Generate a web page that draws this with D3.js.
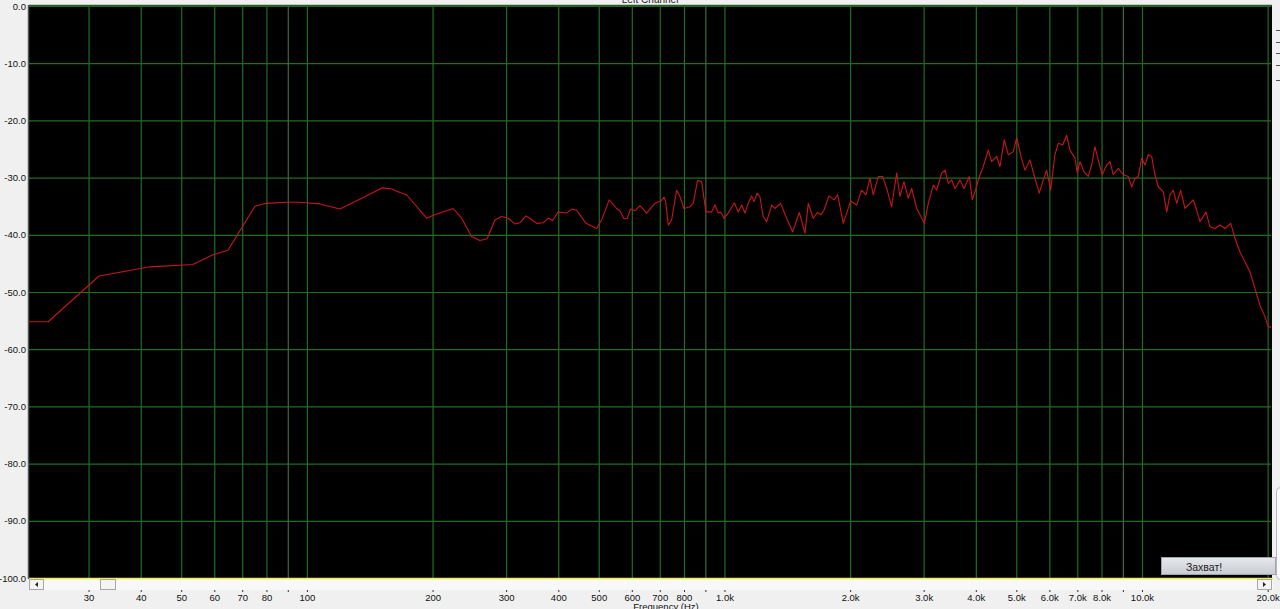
<!DOCTYPE html>
<html><head><meta charset="utf-8">
<script src="https://cdn.jsdelivr.net/npm/d3@7"></script>
<style>
html,body{margin:0;padding:0;background:#f0f0f0;overflow:hidden}
svg{display:block}
text{font-family:"Liberation Sans",Arial,sans-serif}
</style></head><body>
<svg id="c" width="1280" height="609"></svg>
<script>
const chartTitle = "Left Channel";
const xAxisTitle = "Frequency (Hz)";
const buttonLabel = "Захват!";

const freqHz = [
21.6, 24.0, 31.8, 42.1, 53.3, 59.6, 64.7, 75.1, 79.8, 89.6,
96.2, 107.4, 120.0, 135.4, 151.2, 159.8, 167.1, 173.3, 193.5, 200.7,
224.1, 234.7, 248.0, 259.6, 270.3, 282.0, 292.6, 303.5, 314.9, 323.7,
334.6, 342.0, 354.9, 368.1, 378.4, 387.7, 399.9, 418.8, 430.5, 442.6,
466.0, 494.1, 508.0, 529.8, 551.8, 562.0, 574.5, 585.1, 596.2, 610.5,
627.6, 651.1, 681.7, 704.6, 716.4, 723.2, 733.6, 747.4, 768.4, 782.5,
799.8, 826.6, 841.8, 862.4, 881.7, 902.9, 931.7, 948.9, 966.2, 979.3,
997.2, 1021, 1056, 1079, 1100, 1120, 1140, 1162, 1177, 1198,
1216, 1238, 1262, 1298, 1321, 1363, 1409, 1457, 1511, 1559,
1588, 1632, 1669, 1703, 1731, 1780, 1830, 1867, 1926, 2006,
2073, 2131, 2183, 2231, 2272, 2336, 2393, 2447, 2515, 2585,
2633, 2691, 2755, 2808, 2886, 2940, 3011, 3078, 3164, 3224,
3314, 3375, 3436, 3502, 3566, 3666, 3748, 3858, 3923, 4004,
4093, 4154, 4285, 4365, 4487, 4570, 4679, 4784, 4917, 5011,
5131, 5245, 5391, 5512, 5675, 5802, 5911, 6043, 6188, 6302,
6457, 6601, 6722, 6911, 6998, 7104, 7262, 7436, 7576, 7715,
7857, 8032, 8229, 8381, 8535, 8772, 9020, 9273, 9448, 9621,
9797, 9984, 10167, 10354, 10549, 10742, 10940, 11246, 11460, 11671,
11885, 12109, 12380, 12677, 13032, 13271, 13521, 13769, 14233, 14551,
14959, 15375, 15805, 16308, 16703, 17166, 17647, 18141, 18649, 19166,
19703, 20065, 20370];

const levelDb = [
-55.2, -55.2, -47.2, -45.6, -45.2, -43.5, -42.7, -35.0, -34.5, -34.3,
-34.3, -34.6, -35.5, -33.6, -31.8, -32.0, -32.6, -33.0, -37.1, -36.6,
-35.4, -37.1, -40.3, -41.0, -40.7, -37.4, -36.8, -37.1, -38.1, -37.9,
-36.7, -37.1, -38.0, -37.9, -37.1, -37.5, -36.0, -36.2, -35.5, -35.7,
-38.0, -38.9, -37.4, -33.9, -35.4, -35.8, -37.2, -37.1, -35.5, -35.8,
-34.9, -36.2, -34.5, -34.1, -33.4, -34.2, -38.3, -37.4, -32.2, -33.3,
-35.4, -35.1, -34.5, -30.5, -30.7, -36.0, -36.0, -34.8, -36.2, -36.0,
-37.1, -36.2, -34.4, -36.0, -34.8, -36.2, -34.5, -33.2, -34.2, -32.7,
-33.3, -36.8, -37.7, -34.8, -35.4, -34.5, -37.1, -39.5, -36.1, -39.7,
-34.5, -37.1, -36.1, -36.5, -35.7, -33.2, -33.9, -33.0, -38.0, -34.1,
-34.8, -32.2, -33.0, -30.1, -33.0, -29.8, -29.8, -31.9, -35.1, -29.2,
-33.3, -30.7, -33.6, -31.9, -35.4, -36.5, -38.0, -34.5, -31.3, -32.2,
-29.2, -28.7, -31.0, -30.4, -31.9, -30.4, -31.9, -29.8, -33.9, -31.9,
-29.5, -28.4, -25.2, -27.2, -26.3, -28.1, -23.4, -26.0, -25.5, -23.0,
-26.3, -28.7, -26.9, -29.5, -32.7, -30.4, -28.7, -32.2, -26.0, -24.0,
-24.3, -22.6, -25.2, -26.6, -29.2, -27.2, -29.0, -29.8, -27.8, -24.6,
-26.9, -29.5, -27.8, -27.2, -29.5, -28.4, -29.5, -29.8, -31.6, -30.1,
-29.8, -26.6, -27.8, -26.0, -26.3, -29.5, -31.6, -32.5, -36.0, -33.0,
-32.2, -34.5, -32.2, -35.4, -34.5, -33.9, -35.7, -37.7, -36.0, -38.6,
-38.9, -38.3, -38.9, -38.0, -40.6, -43.0, -44.7, -46.5, -49.4, -52.3,
-54.3, -56.1, -56.1];

const xTickValues = [30,40,50,60,70,80,90,100,200,300,400,500,600,700,800,900,1000,2000,3000,4000,5000,6000,7000,8000,9000,10000,20000];
const xTickLabels = ["30","40","50","60","70","80","","100","200","300","400","500","600","700","800","","1.0k","2.0k","3.0k","4.0k","5.0k","6.0k","7.0k","8.0k","","10.0k","20.0k"];
const yTickValues = [0,-10,-20,-30,-40,-50,-60,-70,-80,-90,-100];
const yTickLabels = ["0.0","-10.0","-20.0","-30.0","-40.0","-50.0","-60.0","-70.0","-80.0","-90.0","-100.0"];
const xDomain = [21.6, 20370];
const yDomain = [0, -100];

const svg = d3.select("#c");
const L = 29, R = 1271, T = 6, B = 578;
const x = d3.scaleLog().domain(xDomain).range([L, R]);
const y = d3.scaleLinear().domain(yDomain).range([T, B]);

svg.append("rect").attr("width",1280).attr("height",609).attr("fill","#f0f0f0");

// title (mostly clipped off the top)
svg.append("text").attr("x",650).attr("y",3).attr("text-anchor","middle")
  .attr("font-size",10).attr("fill","#222").text(chartTitle);

// plot background
svg.append("rect").attr("x",L).attr("y",T-1).attr("width",R-L+1).attr("height",B-T+1).attr("fill","#000");

// grid via axes
const gridColor = "#1f6f1f";
const yGrid = svg.append("g").attr("transform",`translate(${L},0)`)
  .call(d3.axisRight(y).tickValues(yTickValues).tickSize(R-L).tickFormat(""));
yGrid.select(".domain").remove();
yGrid.selectAll("line").attr("stroke",gridColor).attr("stroke-width",1.2);

const xGrid = svg.append("g").attr("transform",`translate(0,${T})`)
  .call(d3.axisBottom(x).tickValues(xTickValues).tickSize(B-T).tickFormat(""));
xGrid.select(".domain").remove();
xGrid.selectAll("line").attr("stroke",(d,i)=> xTickLabels[i]==="" ? "#3d6a3d" : gridColor).attr("stroke-width",1.2);

// frame
svg.append("line").attr("x1",L-0.5).attr("x2",L-0.5).attr("y1",T-1).attr("y2",B+1).attr("stroke","#555").attr("stroke-width",1.5);
svg.append("line").attr("x1",L).attr("x2",R+1).attr("y1",T-0.5).attr("y2",T-0.5).attr("stroke","#2a5a2a").attr("stroke-width",1.5);

// curve
svg.append("clipPath").attr("id","clip").append("rect").attr("x",L).attr("y",T).attr("width",R-L).attr("height",B-T);
const pts = freqHz.map((f,i)=>[f, levelDb[i]]);
svg.append("path").datum(pts).attr("clip-path","url(#clip)")
  .attr("fill","none").attr("stroke","#c8161a").attr("stroke-width",1.1).attr("stroke-linejoin","round")
  .attr("d", d3.line().x(d=>x(d[0])).y(d=>y(d[1])));

// y axis labels
const yAxis = svg.append("g").attr("transform",`translate(${L-3},0)`)
  .call(d3.axisLeft(y).tickValues(yTickValues).tickSize(0).tickPadding(0).tickFormat((d,i)=>yTickLabels[i]));
yAxis.select(".domain").remove();
yAxis.selectAll("text").attr("font-family","Liberation Sans, Arial, sans-serif").attr("font-size",9.5).attr("fill","#111");

// scrollbar
svg.append("rect").attr("x",L).attr("y",B).attr("width",R-L+2).attr("height",12).attr("fill","#f8f8f8");
svg.append("line").attr("x1",L).attr("x2",R+2).attr("y1",B+0.5).attr("y2",B+0.5).attr("stroke","#f3ea4a").attr("stroke-width",1.5);
function btn(x0,w,arrow){
  const g = svg.append("g");
  g.append("rect").attr("x",x0+0.5).attr("y",B+1.5).attr("width",w).attr("height",10).attr("fill","#f4f4f4").attr("stroke","#a8a8a8");
  if(arrow==="l") g.append("path").attr("d",`M${x0+6},${B+6.5} l3,-2.5 v5 z`).attr("fill","#222");
  if(arrow==="r") g.append("path").attr("d",`M${x0+9},${B+6.5} l-3,-2.5 v5 z`).attr("fill","#222");
}
btn(L,14,"l");
btn(100,15,null);
btn(1257,14,"r");

// x axis labels
const xAxis = svg.append("g").attr("transform",`translate(0,${B+12})`)
  .call(d3.axisBottom(x).tickValues(xTickValues).tickSize(2).tickPadding(2).tickFormat((d,i)=>xTickLabels[i]));
xAxis.select(".domain").remove();
xAxis.selectAll("line").attr("stroke","#333");
xAxis.selectAll("text").attr("font-family","Liberation Sans, Arial, sans-serif").attr("font-size",9.5).attr("fill","#111");

svg.append("text").attr("x",666).attr("y",610).attr("text-anchor","middle")
  .attr("font-size",9.5).attr("fill","#111").text(xAxisTitle);

// capture button
const bg = svg.append("defs").append("linearGradient").attr("id","bgrad").attr("x1",0).attr("y1",0).attr("x2",0).attr("y2",1);
bg.append("stop").attr("offset","0").attr("stop-color","#e6e8ec");
bg.append("stop").attr("offset","1").attr("stop-color","#c9ccd3");
svg.append("rect").attr("x",1161.5).attr("y",557.5).attr("width",114).attr("height",17).attr("fill","url(#bgrad)").attr("stroke","#a0a4ac");
svg.append("text").attr("x",1204).attr("y",571).attr("text-anchor","middle").attr("font-size",10.5).attr("fill","#222").text(buttonLabel);

// right edge widgets
svg.append("rect").attr("x",1276.5).attr("y",487.5).attr("width",8).attr("height",92).attr("rx",4).attr("fill","#fafafa").attr("stroke","#b8b8b8");
[30,42,53,65,80].forEach(v=>{
  svg.append("line").attr("x1",1276).attr("x2",1280).attr("y1",v+0.5).attr("y2",v+0.5).attr("stroke","#555");
});
</script>
</body></html>
